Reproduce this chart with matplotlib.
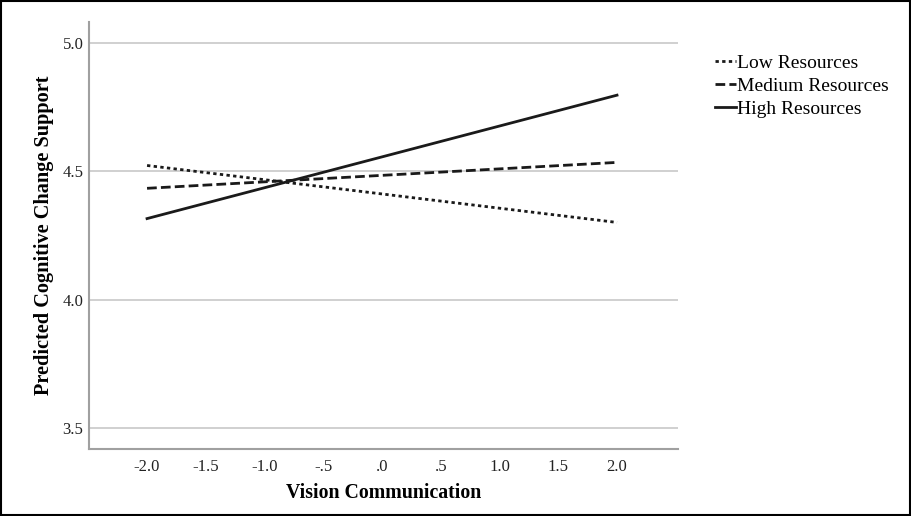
import matplotlib
matplotlib.use("Agg")
import matplotlib.pyplot as plt
from matplotlib.patches import Rectangle

plt.rcParams['font.family'] = ['Liberation Serif', 'DejaVu Serif']

x = [-2.0, 2.0]
low = [4.523, 4.301]
medium = [4.434, 4.535]
high = [4.316, 4.797]
series_names = ["Low Resources", "Medium Resources", "High Resources"]
xticks = [-2.0, -1.5, -1.0, -0.5, 0.0, 0.5, 1.0, 1.5, 2.0]
xtick_labels = ["-2.0", "-1.5", "-1.0", "-.5", ".0", ".5", "1.0", "1.5", "2.0"]
yticks = [3.5, 4.0, 4.5, 5.0]
ytick_labels = ["3.5", "4.0", "4.5", "5.0"]

fig = plt.figure(figsize=(9.12, 5.16), dpi=100)
ax = fig.add_axes([0.0976, 0.1298, 0.6458, 0.8275])

ax.set_xlim(-2.494, 2.519)
ax.set_ylim(3.418, 5.082)

for yv in yticks:
    ax.axhline(yv, color='#c8c8c8', lw=1.2, zorder=0)

l1, = ax.plot(x, low, color='#1a1a1a', lw=2, linestyle=(0, (1.2, 1.2)))
l2, = ax.plot(x, medium, color='#1a1a1a', lw=2, linestyle=(0, (3.5, 1.5)))
l3, = ax.plot(x, high, color='#1a1a1a', lw=2, linestyle='-')

ax.set_xticks(xticks)
ax.set_xticklabels(xtick_labels, fontsize=12)
ax.set_yticks(yticks)
ax.set_yticklabels(ytick_labels, fontsize=12)
ax.tick_params(axis='x', length=0, pad=7, colors='#222222')
ax.tick_params(axis='y', length=0, pad=4, colors='#222222')

for s in ['top', 'right']:
    ax.spines[s].set_visible(False)
for s in ['left', 'bottom']:
    ax.spines[s].set_color('#a0a0a0')
    ax.spines[s].set_linewidth(1.5)

ax.set_xlabel("Vision Communication", fontsize=14.3, fontweight='bold', labelpad=6)
ax.set_ylabel("Predicted Cognitive Change Support", fontsize=14.6, fontweight='bold', labelpad=6)

fig.legend([l1, l2, l3], series_names, loc='upper left', bbox_to_anchor=(0.776, 0.910),
           frameon=False, fontsize=14, handlelength=1.05, handletextpad=0.05,
           labelspacing=0.28, borderaxespad=0)

fig.patches.append(Rectangle((0.001, 0.002), 0.997, 0.996, transform=fig.transFigure,
                             fill=False, edgecolor='black', lw=1.5))

fig.savefig("out.png", dpi=100)
